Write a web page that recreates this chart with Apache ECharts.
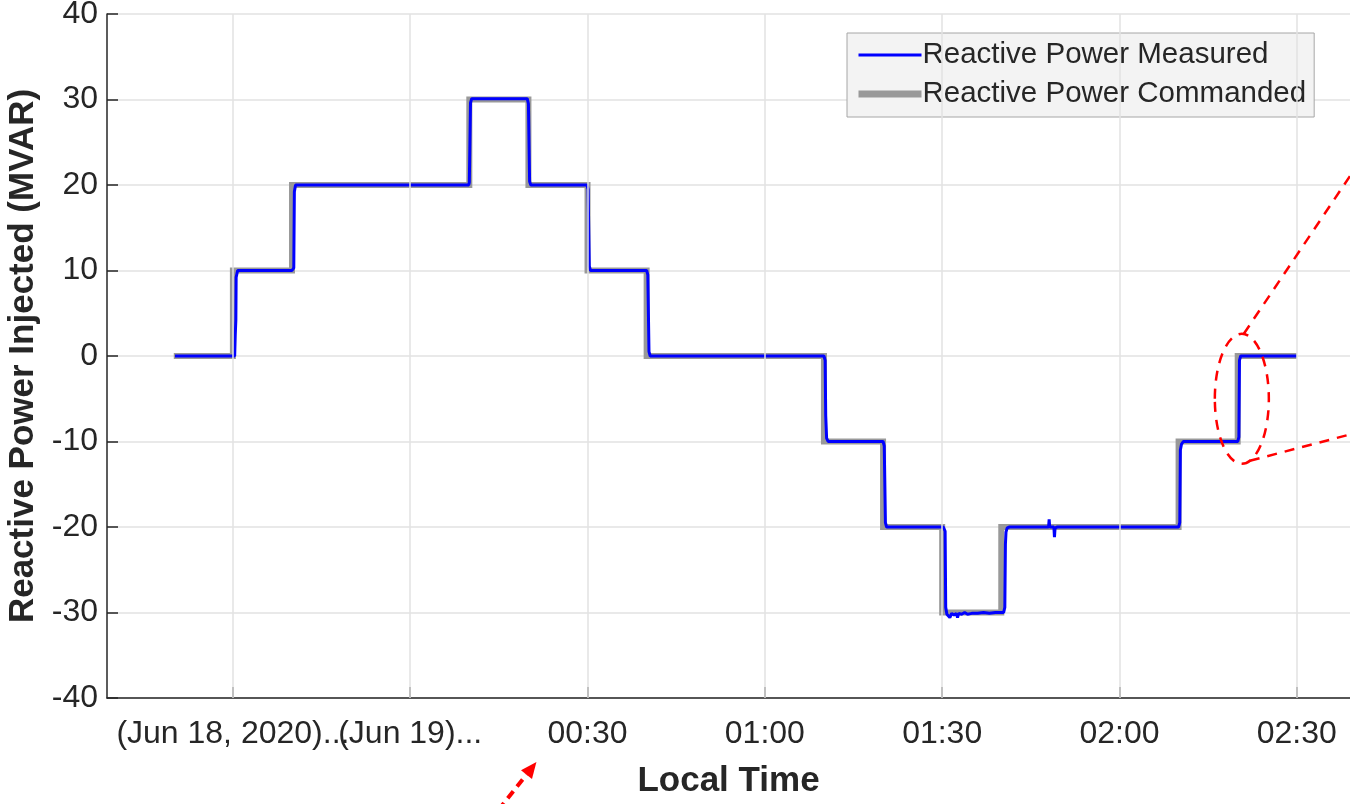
<!DOCTYPE html>
<html>
<head>
<meta charset="utf-8">
<script src="https://cdn.jsdelivr.net/npm/echarts@6/dist/echarts.min.js"></script>
<style>
html,body{margin:0;padding:0;background:#fff;}
#c{width:1350px;height:804px;}
</style>
</head>
<body>
<div id="c"></div>
<script>
// time in minutes relative to 00:00 (Jun 19, 2020); negative = Jun 18
const xTickValues = [-30, 0, 30, 60, 90, 120, 150];
const xTickLabels = ['(Jun 18, 2020)...', '(Jun 19)...', '00:30', '01:00', '01:30', '02:00', '02:30'];
const xRange = [-51.3, 159.0];

// commanded set-point (value held from each time until the next)
const cmdTime  = [-40, -30, -20, 10, 20, 30, 40, 70, 80, 90, 100, 130, 140, 150];
const cmdValue = [0, 10, 20, 30, 20, 10, 0, -10, -20, -30, -20, -10, 0, 0];

// measured reactive power
const measTime = [-39.8, -29.7, -29.6, -29.5, -29.45, -29.2, -20.0, -19.7, -19.6, -19.4,
  9.9, 10.0, 10.2, 10.4, 19.8, 20.0, 20.2, 20.4, 29.9, 30.1, 30.3, 30.5,
  40.0, 40.2, 40.4, 40.6, 70.0, 70.2, 70.3, 70.45, 70.7, 80.0, 80.2, 80.4, 80.6,
  90.2, 90.5, 90.6, 90.8, 91.0, 91.3, 91.6, 92.0, 92.4, 92.6, 92.8, 93.3, 93.8, 94.3, 95.0, 96.0, 97.0, 98.0, 99.0,
  100.4, 100.6, 100.7, 100.8, 101.0, 101.4, 108.0, 108.1, 108.2, 108.9, 109.0, 109.1, 109.5,
  130.0, 130.2, 130.3, 130.5, 130.8, 140.0, 140.2, 140.3, 140.5, 150.0];
const measValue = [0, 0, 2.5, 4.2, 9.2, 10, 10, 10.3, 19.2, 20,
  20, 20.3, 29.6, 30.1, 30.1, 29.5, 20.4, 20, 20, 19.5, 10.5, 10,
  10, 9.5, 0.5, 0, 0, -0.5, -7, -9.6, -10, -10, -10.5, -19.5, -20,
  -20, -20.5, -29.4, -30.2, -30.0, -30.6, -30.1, -30.3, -30.1, -30.6, -30.1, -30.2, -30.0, -30.2, -30.1, -30.1, -30.0, -30.1, -30.0,
  -30.0, -29.4, -22, -20.6, -20.1, -20.0, -20.0, -19.1, -20.0, -20.0, -21.2, -20.1, -20.0,
  -20, -19.5, -11, -10.3, -10, -10, -9.5, -0.5, 0, 0];

const yTicks = { min: -40, max: 40, interval: 10 };

const seriesNames = ['Reactive Power Measured', 'Reactive Power Commanded'];
const axisNames = { x: 'Local Time', y: 'Reactive Power Injected (MVAR)' };

const FONT = 'Liberation Sans, Arial, Helvetica, sans-serif';
const TXT = '#262626';
const BLUE = '#0000ff', GRAY = '#999999';

const chart = echarts.init(document.getElementById('c'), null, { renderer: 'canvas' });

const cmdData = cmdTime.map((t, i) => [t, cmdValue[i]]);
const measData = measTime.map((t, i) => [t, measValue[i]]);

const tickLabel = v => {
  const i = xTickValues.findIndex(t => Math.abs(t - v) < 1e-6);
  return i >= 0 ? xTickLabels[i] : '';
};
// the day-change label is drawn on an overlay axis so both date labels stay visible (they overlap as in the original)
const mainLabelValues = xTickValues.filter(v => v !== 0);
const overlayLabelValues = xTickValues.filter(v => v === 0);

const labelStyle = { margin: 20, fontFamily: FONT, fontSize: 32, color: TXT, hideOverlap: false, formatter: tickLabel };

chart.setOption({
  animation: false,
  backgroundColor: '#ffffff',
  textStyle: { fontFamily: FONT },
  grid: { left: 107, right: 0, top: 14, bottom: 106, containLabel: false, outerBoundsMode: 'none' },
  legend: {
    data: [
      { name: seriesNames[0], itemStyle: { opacity: 0 }, lineStyle: { color: BLUE, width: 3 } },
      { name: seriesNames[1], itemStyle: { opacity: 0 }, lineStyle: { color: GRAY, width: 7 } }
    ],
    orient: 'vertical',
    left: 847, top: 33,
    padding: [7, 8, 8, 8],
    itemGap: 9,
    itemWidth: 63,
    itemHeight: 29,
    backgroundColor: '#f3f3f3',
    borderColor: '#a6a6a6',
    borderWidth: 1,
    borderRadius: 0,
    textStyle: { fontFamily: FONT, fontSize: 29.5, color: TXT, padding: [0, 0, 0, -4] },
    selectedMode: false
  },
  xAxis: [
    {
      type: 'value',
      min: xRange[0], max: xRange[1],
      name: axisNames.x,
      nameLocation: 'middle',
      nameGap: 66,
      nameTextStyle: { fontFamily: FONT, fontSize: 35, fontWeight: 'bold', color: TXT },
      axisLine: { onZero: false, lineStyle: { color: TXT, width: 1.5 } },
      axisTick: { inside: true, length: 11, customValues: xTickValues, lineStyle: { color: TXT, width: 1.5 } },
      axisLabel: Object.assign({ customValues: mainLabelValues, showMinLabel: true, showMaxLabel: true }, labelStyle),
      splitLine: { show: false }
    },
    {
      type: 'value',
      position: 'bottom',
      min: xRange[0], max: xRange[1],
      axisLine: { show: false, onZero: false },
      axisTick: { show: false },
      axisLabel: Object.assign({ customValues: overlayLabelValues, showMinLabel: true, showMaxLabel: true }, labelStyle),
      splitLine: { show: false }
    }
  ],
  yAxis: {
    type: 'value',
    min: yTicks.min, max: yTicks.max, interval: yTicks.interval,
    name: axisNames.y,
    nameLocation: 'middle',
    nameGap: 65,
    nameTextStyle: { fontFamily: FONT, fontSize: 35, fontWeight: 'bold', color: TXT },
    axisLine: { onZero: false, lineStyle: { color: TXT, width: 1.5 } },
    axisTick: { inside: true, length: 11, lineStyle: { color: TXT, width: 1.5 } },
    axisLabel: { margin: 9, fontFamily: FONT, fontSize: 32, color: TXT },
    splitLine: { show: true, lineStyle: { color: '#e2e2e2', width: 1.5 } }
  },
  series: [
    {
      name: '_grid', type: 'line', data: [], z: 0, silent: true, xAxisIndex: 0,
      markLine: {
        silent: true, symbol: ['none', 'none'], animation: false,
        label: { show: false },
        lineStyle: { color: '#e2e2e2', width: 1.5, type: 'solid' },
        emphasis: { disabled: true },
        data: xTickValues.map(v => ({ xAxis: v }))
      }
    },
    {
      name: seriesNames[1], type: 'line', data: cmdData, step: 'end', xAxisIndex: 0,
      symbol: 'none', z: 2,
      lineStyle: { color: GRAY, width: 6, join: 'miter' },
      itemStyle: { color: GRAY }
    },
    {
      name: seriesNames[0], type: 'line', data: measData, xAxisIndex: 0,
      symbol: 'none', z: 3,
      lineStyle: { color: BLUE, width: 3 },
      itemStyle: { color: BLUE }
    }
  ]
});

// red dashed callout annotations, anchored to data coordinates
function drawAnnotations() {
  const c = chart.convertToPixel({ xAxisIndex: 0, yAxisIndex: 0 }, [140.7, -5]);
  const a = chart.convertToPixel({ xAxisIndex: 0, yAxisIndex: 0 }, [20, -40]);
  const red = '#ff0000';
  const dash = { stroke: red, lineWidth: 2.5, lineDash: [10, 8], fill: null };
  const tip = [a[0] + 8, a[1] + 64];
  const tail = [a[0] - 30, a[1] + 112];
  const ang = Math.atan2(tip[1] - tail[1], tip[0] - tail[0]);
  const hl = 16, hw = 7;
  const base = [tip[0] - hl * Math.cos(ang), tip[1] - hl * Math.sin(ang)];
  const px = -Math.sin(ang), py = Math.cos(ang);
  chart.setOption({
    graphic: [
      { type: 'ellipse', shape: { cx: c[0], cy: c[1], rx: 27, ry: 65 }, style: dash, z: 10, silent: true },
      { type: 'line', shape: { x1: c[0] + 2, y1: c[1] - 65, x2: c[0] + 140, y2: c[1] - 270 }, style: dash, z: 10, silent: true },
      { type: 'line', shape: { x1: c[0] + 8, y1: c[1] + 62, x2: c[0] + 130, y2: c[1] + 30 }, style: dash, z: 10, silent: true },
      { type: 'line', shape: { x1: tail[0], y1: tail[1], x2: base[0], y2: base[1] }, style: { stroke: red, lineWidth: 4, lineDash: [9, 6] }, z: 10, silent: true },
      { type: 'polygon', shape: { points: [tip, [base[0] + px * hw, base[1] + py * hw], [base[0] - px * hw, base[1] - py * hw]] }, style: { fill: red }, z: 10, silent: true }
    ]
  });
}
drawAnnotations();
</script>
</body>
</html>
